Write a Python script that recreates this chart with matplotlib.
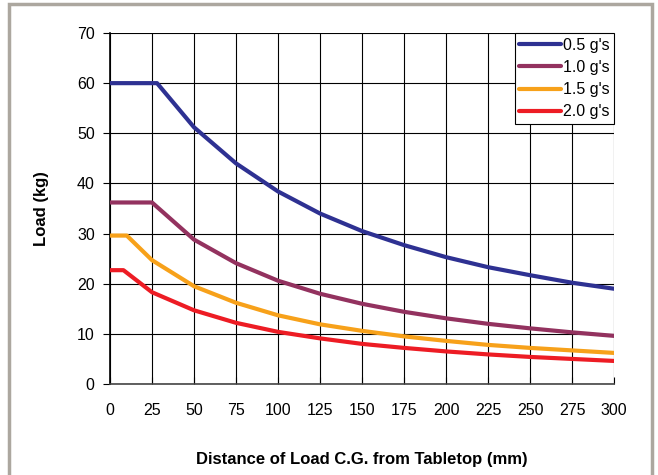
import matplotlib.pyplot as plt
from matplotlib.patches import Rectangle

plt.rcParams['font.family'] = ['Liberation Sans', 'DejaVu Sans']

# distances (mm) and loads (kg)
x_05 = [0, 28, 50, 75, 100, 125, 150, 175, 200, 225, 250, 275, 300]
y_05 = [60.0, 60.0, 51.2, 44.0, 38.4, 34.0, 30.5, 27.7, 25.3, 23.3, 21.7, 20.2, 19.0]

x_10 = [0, 25, 50, 75, 100, 125, 150, 175, 200, 225, 250, 275, 300]
y_10 = [36.2, 36.2, 28.8, 24.1, 20.6, 18.0, 16.0, 14.4, 13.1, 12.0, 11.1, 10.3, 9.6]

x_15 = [0, 10, 25, 50, 75, 100, 125, 150, 175, 200, 225, 250, 275, 300]
y_15 = [29.6, 29.6, 24.7, 19.5, 16.2, 13.7, 11.9, 10.6, 9.5, 8.6, 7.8, 7.2, 6.7, 6.2]

x_20 = [0, 8, 25, 50, 75, 100, 125, 150, 175, 200, 225, 250, 275, 300]
y_20 = [22.7, 22.7, 18.3, 14.7, 12.2, 10.4, 9.1, 8.0, 7.2, 6.5, 5.9, 5.4, 5.0, 4.6]

labels = ["0.5 g's", "1.0 g's", "1.5 g's", "2.0 g's"]
colors = ['#2e3192', '#93325f', '#f7a11a', '#ed1c24']

fig = plt.figure(figsize=(6.58, 4.75), dpi=100)
ax = fig.add_axes([110 / 658, 1 - 384 / 475, 504 / 658, 351 / 475])

# grey frame round the figure
fig.patches.append(Rectangle((9 / 658, -0.05), 643 / 658, 1.05 - 4 / 475,
                             transform=fig.transFigure, fill=False,
                             edgecolor='#aca79f', linewidth=2.5))

for xs, ys, lab, c in zip([x_05, x_10, x_15, x_20], [y_05, y_10, y_15, y_20],
                          labels, colors):
    ax.plot(xs, ys, color=c, linewidth=3, label=lab, solid_capstyle='round',
            zorder=3)

ax.set_xlim(0, 300)
ax.set_ylim(0, 70)
ax.set_xticks(range(0, 301, 25))
ax.set_yticks(range(0, 71, 10))
ax.grid(True, color='black', linewidth=0.8)
ax.set_axisbelow(True)

for s in ['top', 'right']:
    ax.spines[s].set_visible(False)
ax.spines['left'].set_linewidth(1.2)
ax.spines['bottom'].set_linewidth(1.2)
ax.spines['bottom'].set_color('#444444')

ax.tick_params(axis='x', direction='in', length=5, labelsize=11.5, pad=14)
ax.tick_params(axis='y', direction='out', length=5, labelsize=11.5, pad=6)

ax.set_xlabel('Distance of Load C.G. from Tabletop (mm)', fontsize=12,
              fontweight='bold', labelpad=24)
ax.set_ylabel('Load (kg)', fontsize=12, fontweight='bold', labelpad=20)

leg = ax.legend(loc='upper right', bbox_to_anchor=(1.0, 1.0), fontsize=11.5,
                frameon=True, fancybox=False, edgecolor='black',
                handlelength=2.6, handletextpad=0.1, borderpad=0.3,
                labelspacing=0.45, borderaxespad=0.0)
leg.get_frame().set_linewidth(0.8)
leg.get_frame().set_alpha(1)

fig.savefig('out.png', dpi=100)
